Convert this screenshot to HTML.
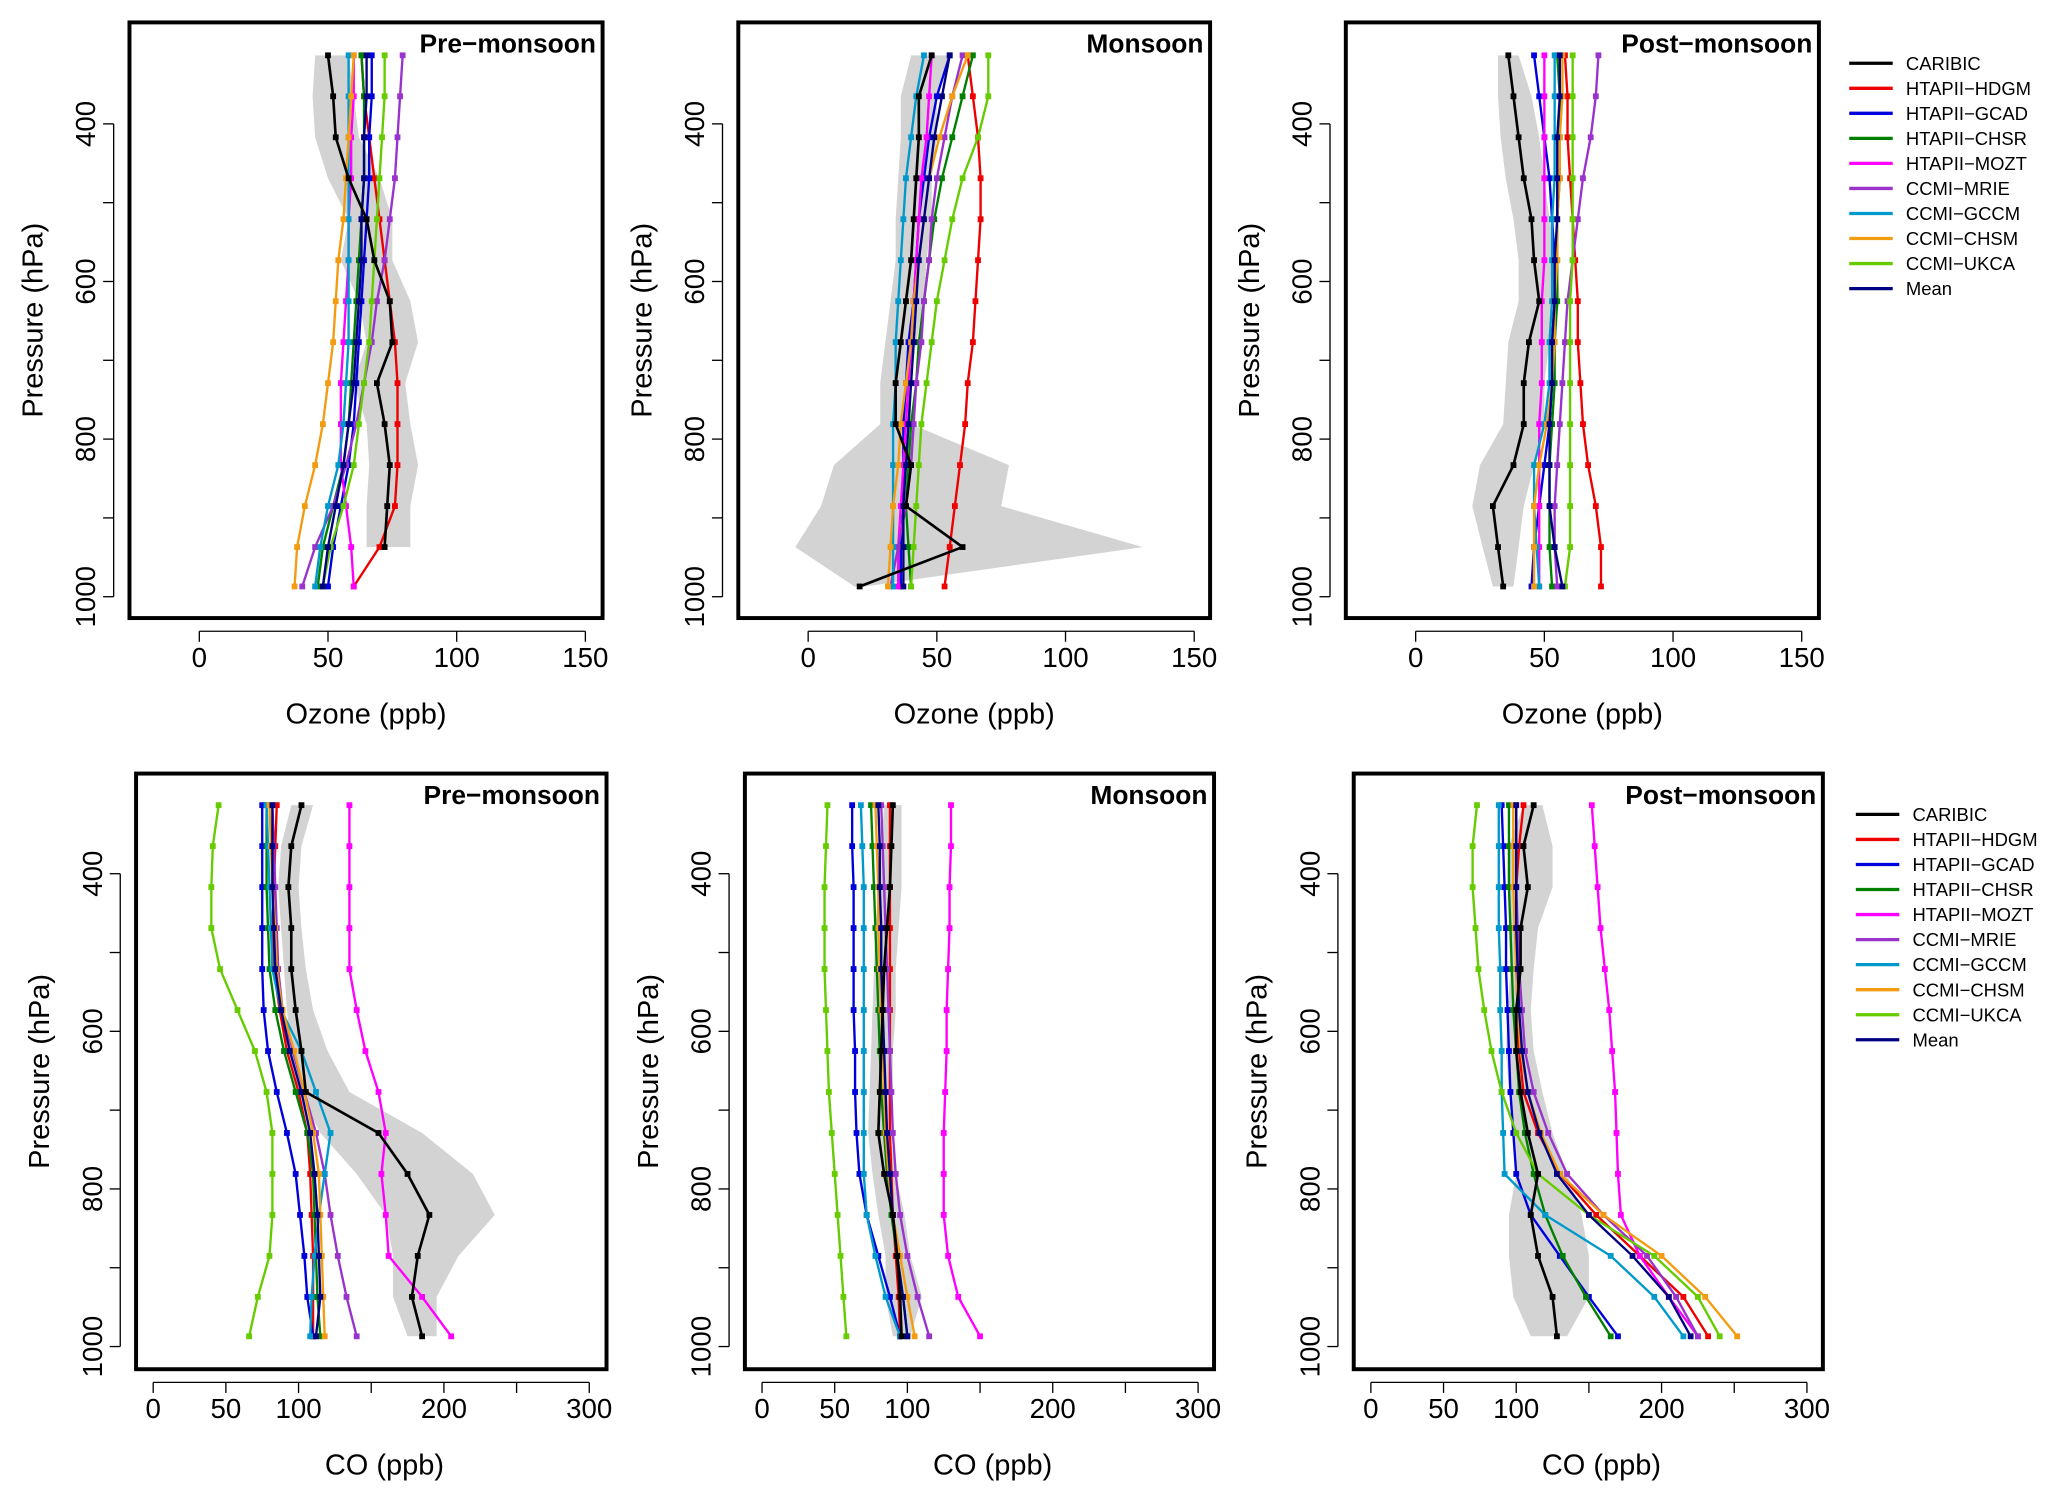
<!DOCTYPE html>
<html><head><meta charset="utf-8"><style>
html,body{margin:0;padding:0;background:#fff}
svg text{font-family:"Liberation Sans",Arial,sans-serif}
</style></head><body>
<svg id="chart" width="2067" height="1501" viewBox="0 0 1568 1139" xmlns="http://www.w3.org/2000/svg"></svg>
<script>
const levels=[313,365,417,469,521,573,625,677,729,781,833,885,937,987];
const seriesNames=["CARIBIC","HTAPII\u2212HDGM","HTAPII\u2212GCAD","HTAPII\u2212CHSR","HTAPII\u2212MOZT","CCMI\u2212MRIE","CCMI\u2212GCCM","CCMI\u2212CHSM","CCMI\u2212UKCA","Mean"];
const seriesColors=["#000000","#ee0000","#0000dd","#008000","#ff00ff","#9933cc","#0099cc","#f39c12","#66cc00","#000080"];
const panelTitles=["Pre\u2212monsoon","Monsoon","Post\u2212monsoon","Pre\u2212monsoon","Monsoon","Post\u2212monsoon"];
const ozoneTicks=[0,50,100,150];
const ozoneTickLabels=["0","50","100","150"];
const coTicks=[0,50,100,150,200,250,300];
const coTickLabels=["0","50","100","","200","","300"];
const pressureTicks=[400,500,600,700,800,900,1000];
const pressureTickLabels=["400","","600","","800","","1000"];

// Ozone pre-monsoon
const o3PreCAR=[50,52,53,58,65,68,74,75,69,72,74,73,72,null];
const o3PreMin=[45,44,45,50,58,55,62,65,60,65,66,65,65,null];
const o3PreMax=[58,60,62,70,75,75,82,85,80,82,85,82,82,null];
const o3PreHDGM=[63,64,66,68,70,72,74,76,77,77,77,76,70,60];
const o3PreGCAD=[67,67,66,66,65,64,63,62,61,60,58,55,52,50];
const o3PreCHSR=[63,64,64,64,63,62,61,60,59,58,56,52,48,46];
const o3PreMOZT=[60,60,59,59,58,58,57,56,55,55,55,57,59,60];
const o3PreMRIE=[79,78,77,76,74,72,69,67,64,61,57,52,45,40];
const o3PreGCCM=[58,58,58,58,58,58,58,58,57,56,54,50,47,45];
const o3PreCHSM=[60,59,58,57,56,54,53,52,50,48,45,41,38,37];
const o3PreUKCA=[72,72,71,70,69,68,67,66,64,62,60,56,51,48];
const o3PreMean=[65,65,64,64,63,63,62,61,60,58,56,53,50,48];
// Ozone monsoon
const o3MonCAR=[48,43,43,42,41,40,38,36,34,34,40,38,60,20];
const o3MonMin=[40,36,36,35,34,34,32,30,28,28,10,5,-5,18];
const o3MonMax=[55,50,50,48,48,46,45,42,40,40,78,75,130,22];
const o3MonHDGM=[62,64,66,67,67,66,65,64,62,61,59,57,55,53];
const o3MonGCAD=[55,50,47,45,43,42,41,39,38,37,37,37,36,36];
const o3MonCHSR=[64,60,56,52,49,47,45,43,42,40,39,38,39,40];
const o3MonMOZT=[48,47,46,44,43,42,41,40,39,38,37,36,35,35];
const o3MonMRIE=[60,56,53,50,48,47,45,44,42,41,40,38,35,32];
const o3MonGCCM=[45,42,40,38,37,36,35,34,34,33,33,33,33,33];
const o3MonCHSM=[62,56,51,47,45,43,41,40,38,36,35,33,32,31];
const o3MonUKCA=[70,70,66,60,56,53,50,48,46,44,43,42,41,40];
const o3MonMean=[55,52,49,47,45,43,42,41,40,39,38,37,37,37];
// Ozone post-monsoon
const o3PostCAR=[36,38,40,42,45,46,48,44,42,42,38,30,32,34];
const o3PostMin=[32,32,33,35,38,40,40,36,35,34,25,22,26,30];
const o3PostMax=[40,45,48,50,52,55,56,52,50,50,46,42,40,38];
const o3PostHDGM=[58,59,59,60,61,62,63,63,64,65,67,70,72,72];
const o3PostGCAD=[46,48,50,52,53,54,54,53,53,52,50,48,46,45];
const o3PostCHSR=[55,56,56,56,55,55,55,54,54,53,52,52,52,53];
const o3PostMOZT=[50,50,50,50,50,50,49,49,49,48,48,48,48,48];
const o3PostMRIE=[71,70,68,65,63,61,59,58,57,56,55,54,54,55];
const o3PostGCCM=[54,54,54,54,53,53,53,52,52,50,46,46,47,48];
const o3PostCHSM=[57,57,56,56,55,55,54,54,53,51,48,46,46,46];
const o3PostUKCA=[61,61,61,61,61,61,60,60,60,60,60,60,60,58];
const o3PostMean=[56,56,55,55,55,54,54,53,53,52,52,52,54,57];
// CO pre-monsoon
const coPreCAR=[102,95,93,95,95,98,102,105,155,175,190,182,178,185];
const coPreMin=[95,88,86,88,90,92,95,100,115,140,160,165,165,175];
const coPreMax=[110,102,100,102,105,110,120,135,185,220,235,210,195,195];
const coPreHDGM=[85,84,83,82,83,87,92,100,106,108,109,110,110,110];
const coPreGCAD=[75,75,75,75,75,76,79,85,92,98,101,104,106,110];
const coPreCHSR=[78,78,78,79,80,84,90,98,106,110,111,112,113,115];
const coPreMOZT=[135,135,135,135,135,140,146,155,160,157,160,162,185,205];
const coPreMRIE=[82,83,84,85,86,89,96,104,112,118,122,127,133,140];
const coPreGCCM=[78,79,80,81,82,88,102,112,122,118,114,111,109,108];
const coPreCHSM=[80,81,82,84,85,89,97,104,110,114,115,116,117,118];
const coPreUKCA=[45,41,40,40,46,58,70,78,82,82,82,80,72,66];
const coPreMean=[82,82,82,83,84,88,94,102,108,111,113,114,115,112];
// CO monsoon
const coMonCAR=[90,89,88,86,84,83,82,81,80,84,90,93,95,96];
const coMonMin=[84,82,80,78,77,76,75,74,73,76,80,85,85,90];
const coMonMax=[96,96,96,94,92,92,90,90,88,92,98,102,110,102];
const coMonHDGM=[88,88,88,88,88,88,88,88,88,89,90,92,94,95];
const coMonGCAD=[62,62,63,63,63,63,64,64,65,67,72,80,88,95];
const coMonCHSR=[75,76,77,78,79,80,81,82,84,86,89,93,97,100];
const coMonMOZT=[130,130,129,129,128,127,127,126,125,125,125,128,135,150];
const coMonMRIE=[82,83,84,85,86,87,88,89,90,92,95,100,107,115];
const coMonGCCM=[68,69,70,70,70,70,70,70,70,70,72,78,85,95];
const coMonCHSM=[78,79,80,80,81,82,83,84,85,87,90,95,100,105];
const coMonUKCA=[45,44,43,43,43,44,45,46,48,50,52,54,56,58];
const coMonMean=[80,81,81,82,82,83,84,85,86,88,90,93,97,100];
// CO post-monsoon
const coPostCAR=[112,105,108,103,103,100,100,103,108,115,110,115,125,128];
const coPostMin=[105,95,95,95,96,94,93,95,98,100,95,95,98,110];
const coPostMax=[118,125,125,115,112,110,112,118,125,135,145,150,150,135];
const coPostHDGM=[105,102,100,100,100,101,102,105,115,130,155,185,215,232];
const coPostGCAD=[90,91,92,93,93,94,95,96,98,100,110,130,150,170];
const coPostCHSR=[95,95,95,96,97,98,100,102,106,112,120,132,148,165];
const coPostMOZT=[152,154,156,158,161,164,166,168,169,170,172,185,205,225];
const coPostMRIE=[100,100,100,101,102,104,106,112,122,135,160,190,210,225];
const coPostGCCM=[88,88,88,88,89,89,90,90,91,92,120,165,195,215];
const coPostCHSM=[98,98,98,99,100,101,103,108,117,130,160,200,230,252];
const coPostUKCA=[73,70,70,72,74,78,83,90,100,115,150,195,225,240];
const coPostMean=[100,100,100,100,101,102,104,108,116,128,150,180,205,220];

const panelSeries=[
 [o3PreCAR,o3PreHDGM,o3PreGCAD,o3PreCHSR,o3PreMOZT,o3PreMRIE,o3PreGCCM,o3PreCHSM,o3PreUKCA,o3PreMean],
 [o3MonCAR,o3MonHDGM,o3MonGCAD,o3MonCHSR,o3MonMOZT,o3MonMRIE,o3MonGCCM,o3MonCHSM,o3MonUKCA,o3MonMean],
 [o3PostCAR,o3PostHDGM,o3PostGCAD,o3PostCHSR,o3PostMOZT,o3PostMRIE,o3PostGCCM,o3PostCHSM,o3PostUKCA,o3PostMean],
 [coPreCAR,coPreHDGM,coPreGCAD,coPreCHSR,coPreMOZT,coPreMRIE,coPreGCCM,coPreCHSM,coPreUKCA,coPreMean],
 [coMonCAR,coMonHDGM,coMonGCAD,coMonCHSR,coMonMOZT,coMonMRIE,coMonGCCM,coMonCHSM,coMonUKCA,coMonMean],
 [coPostCAR,coPostHDGM,coPostGCAD,coPostCHSR,coPostMOZT,coPostMRIE,coPostGCCM,coPostCHSM,coPostUKCA,coPostMean]];
const panelMin=[o3PreMin,o3MonMin,o3PostMin,coPreMin,coMonMin,coPostMin];
const panelMax=[o3PreMax,o3MonMax,o3PostMax,coPreMax,coMonMax,coPostMax];

const NS="http://www.w3.org/2000/svg";
const svg=document.getElementById('chart');
function mk(tag,attrs,parent){const e=document.createElementNS(NS,tag);for(const k in attrs)e.setAttribute(k,attrs[k]);(parent||svg).appendChild(e);return e;}

const geom=[
 {bx:98,by:17,bw:359,bh:452,x0:151,kx:1.953,y400:94,co:false},
 {bx:560,by:17,bw:358,bh:452,x0:613,kx:1.953,y400:94,co:false},
 {bx:1021,by:17,bw:359,bh:452,x0:1074,kx:1.953,y400:94,co:false},
 {bx:103,by:587,bw:357,bh:452,x0:116,kx:1.103,y400:663,co:true},
 {bx:565,by:587,bw:356,bh:452,x0:578,kx:1.103,y400:663,co:true},
 {bx:1027,by:587,bw:356,bh:452,x0:1040,kx:1.103,y400:663,co:true}];
const ky=0.598;

geom.forEach((g,pi)=>{
  const grp=mk('g',{});
  
  
  const X=v=>g.x0+v*g.kx, Y=p=>g.y400+(p-400)*ky;
  const clipId='clip'+pi;
  const cp=mk('clipPath',{id:clipId},grp);
  mk('rect',{x:g.bx,y:g.by,width:g.bw,height:g.bh},cp);
  const plot=mk('g',{'clip-path':'url(#'+clipId+')'},grp);
  const mn=panelMin[pi],mx=panelMax[pi];let pts=[];
  levels.forEach((p,i)=>{if(mn[i]!=null)pts.push(X(mn[i])+','+Y(p));});
  for(let i=levels.length-1;i>=0;i--){if(mx[i]!=null)pts.push(X(mx[i])+','+Y(levels[i]));}
  const env=mk('polygon',{points:pts.join(' '),fill:'#d3d3d3',stroke:'none'},plot);
  
  
  const order=[1,2,3,4,5,6,7,8,9,0];
  order.forEach(si=>{
    const vals=panelSeries[pi][si];const col=seriesColors[si];
    const sg=mk('g',{},plot);
    
    
    const lp=[];levels.forEach((p,i)=>{if(vals[i]!=null)lp.push(X(vals[i])+','+Y(p));});
    mk('polyline',{points:lp.join(' '),fill:'none',stroke:col,'stroke-width':si==0?2:1.8},sg);
    levels.forEach((p,i)=>{if(vals[i]!=null)mk('rect',{x:X(vals[i])-2.2,y:Y(p)-2.2,width:4.4,height:4.4,fill:col},sg);});
  });
  const box=mk('rect',{x:g.bx,y:g.by,width:g.bw,height:g.bh,fill:'none',stroke:'#000','stroke-width':3},grp);
  
  
  const t=mk('text',{x:g.bx+g.bw-5,y:g.by+23,'text-anchor':'end','font-size':20,'font-weight':'bold'},grp);
  t.textContent=panelTitles[pi];
  
  
  const ticks=g.co?coTicks:ozoneTicks, labs=g.co?coTickLabels:ozoneTickLabels;
  const xa=mk('g',{},grp);
  
  
  const axY=g.by+g.bh+10;
  mk('line',{x1:X(ticks[0]),x2:X(ticks[ticks.length-1]),y1:axY,y2:axY,stroke:'#000','stroke-width':1},xa);
  ticks.forEach((v,i)=>{mk('line',{x1:X(v),x2:X(v),y1:axY,y2:axY+8,stroke:'#000','stroke-width':1},xa);
    if(labs[i]){const tl=mk('text',{x:X(v),y:axY+27,'text-anchor':'middle','font-size':21},xa);tl.textContent=labs[i];}});
  const xt=mk('text',{x:(g.bx+g.bw/2)+(g.co?10:0),y:g.by+g.bh+80,'text-anchor':'middle','font-size':22},grp);
  xt.textContent=g.co?'CO (ppb)':'Ozone (ppb)';
  
  
  const ya=mk('g',{},grp);
  
  
  const axX=g.bx-12;
  mk('line',{x1:axX,x2:axX,y1:Y(400),y2:Y(1000),stroke:'#000','stroke-width':1},ya);
  pressureTicks.forEach((p,i)=>{mk('line',{x1:axX-8,x2:axX,y1:Y(p),y2:Y(p),stroke:'#000','stroke-width':1},ya);
    if(pressureTickLabels[i]){const tl=mk('text',{x:axX-14,y:Y(p),'text-anchor':'middle','font-size':21,transform:'rotate(-90 '+(axX-14)+' '+Y(p)+')'},ya);tl.textContent=pressureTickLabels[i];}});
  const yx=g.bx-66, yy=g.by+g.bh/2;
  const yt=mk('text',{x:yx,y:yy,'text-anchor':'middle','font-size':22,transform:'rotate(-90 '+yx+' '+yy+')'},grp);
  yt.textContent='Pressure (hPa)';
  
  
});

[[1403,48],[1408,618]].forEach(([lx,ly],li)=>{
  const lg=mk('g',{});
  
  
  seriesNames.forEach((n,i)=>{
    const e=mk('g',{},lg);
    
    
    const y=ly+i*19;
    mk('line',{x1:lx,x2:lx+33,y1:y,y2:y,stroke:seriesColors[i],'stroke-width':2.5},e);
    const t=mk('text',{x:lx+43,y:y+5,'font-size':14},e);t.textContent=n;
  });
});
</script>
</body></html>
